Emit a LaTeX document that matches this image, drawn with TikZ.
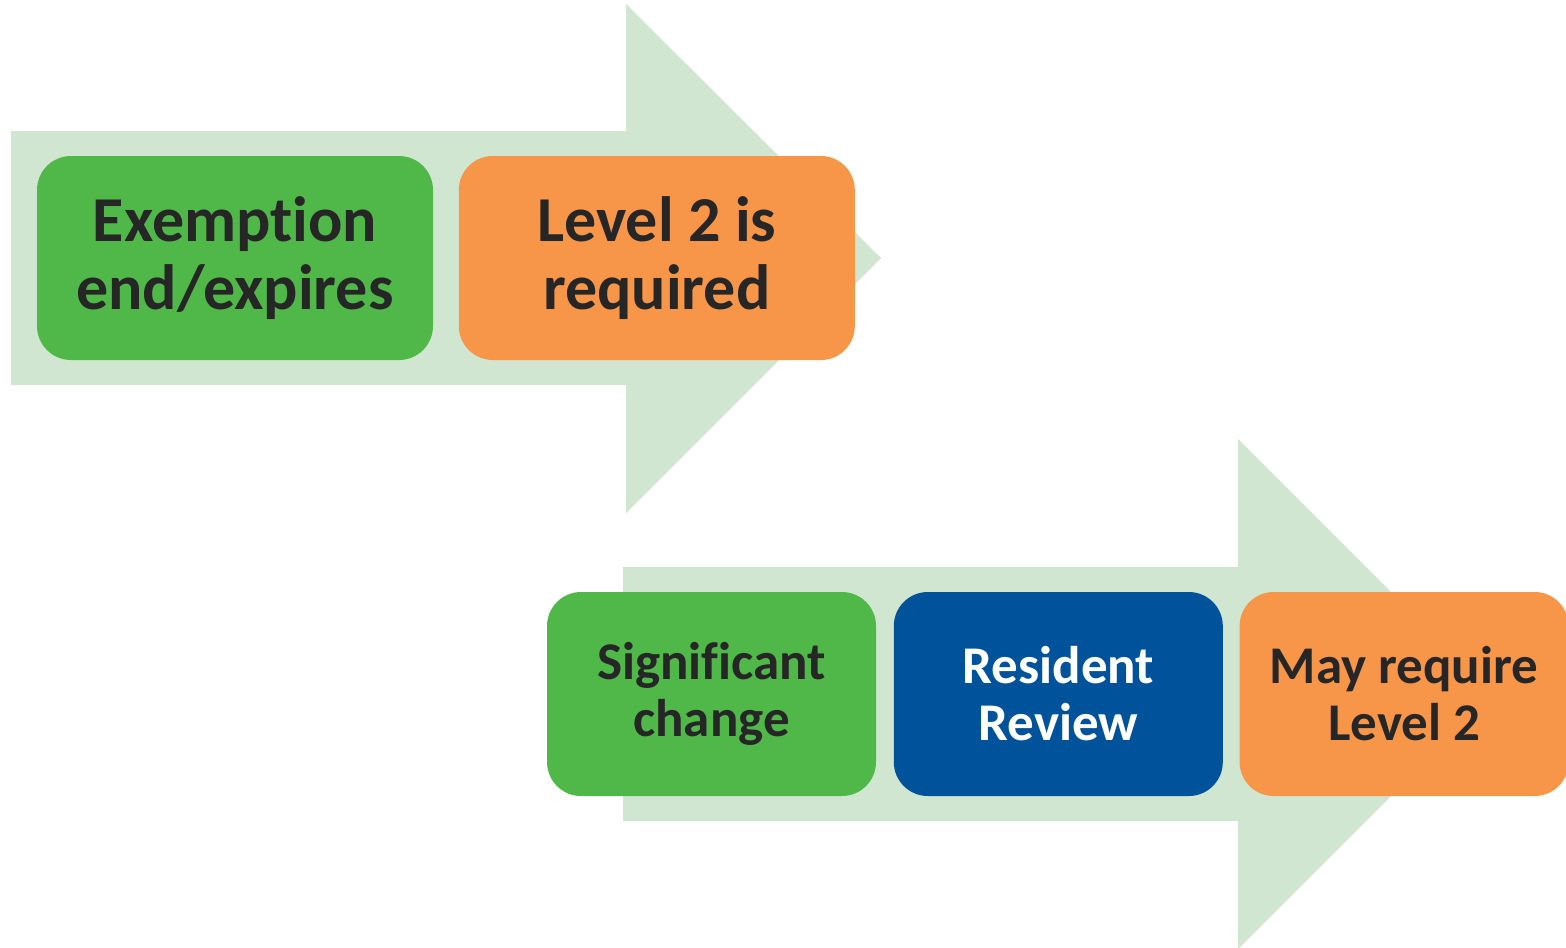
\documentclass[tikz,border=0pt]{standalone}
\usepackage{fontspec}
\setmainfont{Carlito}[Ligatures=NoCommon]
\usepackage{tikz}
\usetikzlibrary{positioning}

\definecolor{arrowfill}{RGB}{208,230,208}
\definecolor{stepgreen}{RGB}{80,184,72}
\definecolor{steporange}{RGB}{247,150,72}
\definecolor{stepblue}{RGB}{0,83,155}
\definecolor{steptext}{RGB}{38,38,38}

\tikzset{
  stage/.style={rounded corners=17pt, minimum height=102pt, align=center,
    text=steptext, font=\bfseries},
  bigstage/.style={stage, minimum width=198pt, font=\fontsize{32}{34}\selectfont\bfseries},
  smallstage/.style={stage, minimum width=164.5pt, font=\fontsize{26.5}{28.5}\selectfont\bfseries}
}

\begin{document}
\begin{tikzpicture}[x=0.5pt, y=-0.5pt]
    \useasboundingbox (0, 0) rectangle (1566, 947);

    % block arrows behind the steps
    \fill [arrowfill] (11, 131) -- (626, 131) -- (626, 4) -- (881, 258) -- (626, 513) -- (626, 385) -- (11, 385) -- cycle;
    \fill [arrowfill] (623, 567) -- (1238, 567) -- (1238, 439) -- (1493, 694) -- (1238, 949) -- (1238, 821) -- (623, 821) -- cycle;

    % first row
    \node [bigstage, fill=stepgreen] (exempt) at (235, 258) {Exemption\\end/expires};
    \node [bigstage, fill=steporange, right=12.5pt of exempt] (level) {Level 2 is\\required};

    % second row
    \node [smallstage, fill=stepgreen] (change) at (711.5, 694) {Significant\\change};
    \node [smallstage, fill=stepblue, text=white, right=8.5pt of change] (review) {Resident\\Review};
    \node [smallstage, fill=steporange, right=8pt of review] (maylevel) {May require\\Level 2};
  \end{tikzpicture}
\end{document}
